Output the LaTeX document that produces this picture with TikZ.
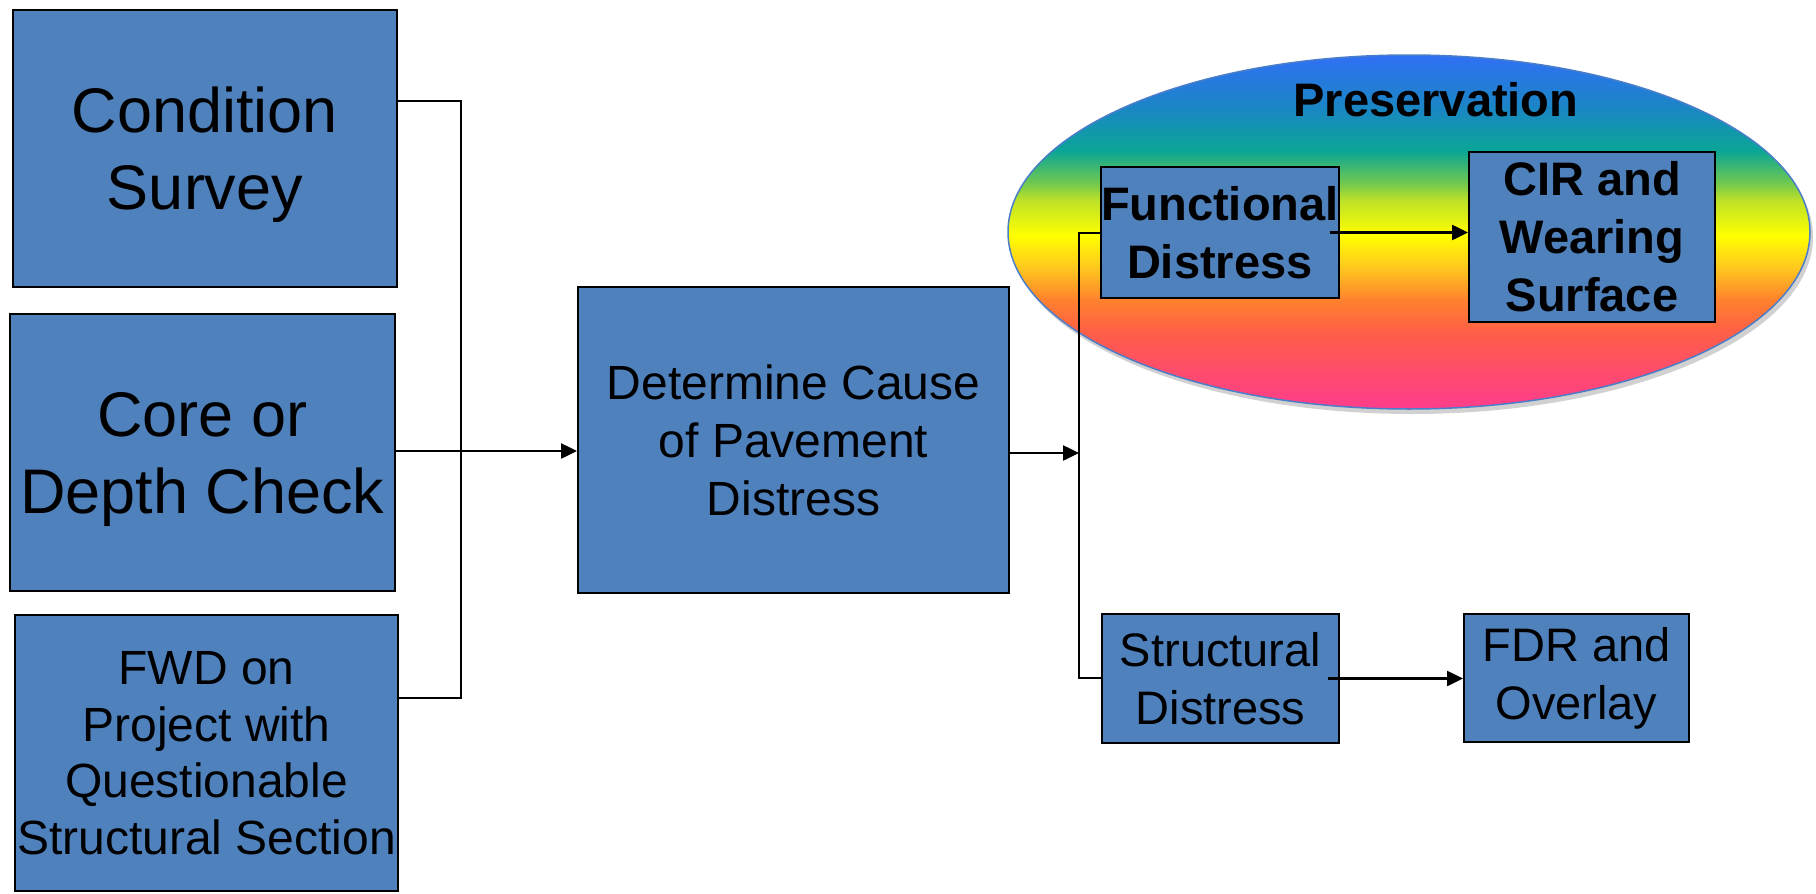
\documentclass[tikz,border=0pt]{standalone}
\usepackage{fontspec}
\setmainfont{Liberation Sans}
\usetikzlibrary{arrows.meta,shapes.geometric,shadows}
\definecolor{boxblue}{HTML}{4F81BD}
\definecolor{ellborder}{HTML}{4A7EC8}
\definecolor{sbl}{RGB}{48,112,245}
\definecolor{sbl2}{RGB}{28,132,200}
\definecolor{stl}{RGB}{10,165,150}
\definecolor{sgr}{RGB}{110,200,80}
\definecolor{syg}{RGB}{190,225,40}
\definecolor{syl}{RGB}{255,255,0}
\definecolor{syo}{RGB}{255,200,30}
\definecolor{sor}{RGB}{255,130,45}
\definecolor{srd}{RGB}{255,95,70}
\definecolor{srp}{RGB}{255,75,110}
\definecolor{spk}{RGB}{255,60,140}
\pgfdeclareverticalshading{rainbow}{100bp}{color(0bp)=(spk); color(25bp)=(spk); color(30bp)=(srp); color(36bp)=(srd); color(40.5bp)=(sor); color(45bp)=(syo); color(49.5bp)=(syl); color(54.5bp)=(syg); color(57bp)=(sgr); color(61.5bp)=(stl); color(68bp)=(sbl2); color(75bp)=(sbl); color(100bp)=(sbl)}
\tikzset{
  bluebox/.style={draw=black, line width=2pt, fill=boxblue, anchor=north west, inner sep=0pt, align=center, text=black},
  bigtxt/.style={font=\fontsize{63}{77}\selectfont},
  midtxt/.style={font=\fontsize{48}{58}\selectfont},
  smalltxt/.style={font=\fontsize{48}{56.5}\selectfont},
  rtxt/.style={font=\fontsize{47}{58}\selectfont},
  rbold/.style={font=\fontsize{47}{58}\selectfont\bfseries},
  conn/.style={draw=black, line width=2pt},
  arr/.style={draw=black, line width=2.5pt, -{Triangle[length=16pt,width=15pt]}}
}
\begin{document}
\begin{tikzpicture}[x=1pt,y=-1pt]
\useasboundingbox (0,0) rectangle (1816,894);
% Preservation ellipse
\node[ellipse, draw=ellborder, line width=1.5pt, shade, shading=rainbow, minimum width=802pt, minimum height=354pt, inner sep=0pt,
  drop shadow={shadow xshift=3pt, shadow yshift=-5pt, opacity=0.18, fill=black}] (pres) at (1409,232) {};
\node[font=\fontsize{47}{56}\selectfont\bfseries, anchor=base] (prestxt) at (1436,116) {Preservation};
% boxes
\node[bluebox, bigtxt, minimum width=384pt, minimum height=277pt] (cs) at (12,9) {\rule{0pt}{58pt}Condition\\Survey};
\node[bluebox, bigtxt, minimum width=385pt, minimum height=277pt] (core) at (9,313) {\rule{0pt}{58pt}Core or\\Depth Check};
\node[bluebox, smalltxt, minimum width=383pt, minimum height=276pt] (fwd) at (14,614) {FWD on\\Project with\\Questionable\\Structural Section};
\node[bluebox, midtxt, minimum width=431pt, minimum height=306pt] (det) at (577,286) {Determine Cause\\of Pavement\\Distress};
\node[bluebox, rbold, minimum width=234pt, minimum height=131pt] (func) at (1100,166) {Functional\\Distress};
\node[bluebox, rbold, minimum width=246pt, minimum height=170pt] (cir) at (1468,151) {CIR and\\Wearing\\Surface};
\node[bluebox, rtxt, minimum width=237pt, minimum height=129pt] (struc) at (1101,613) {Structural\\Distress};
\node[bluebox, rtxt, minimum width=225pt, minimum height=128pt] (fdr) at (1463,613) {FDR and\\Overlay};
% connector points
\coordinate (b1) at (461,101);
\coordinate (b2) at (461,451);
\coordinate (b3) at (461,698);
\coordinate (r1) at (1079,233);
\coordinate (r2) at (1079,453);
\coordinate (r3) at (1079,678);
% connectors
\draw[conn] (cs.east |- b1) -- (b1) -- (b3) -- (fwd.east |- b3);
\draw[conn] (core.east |- b2) -- (b2);
\draw[arr] (b2) -- (det.west |- b2);
\draw[arr] (det.east |- r2) -- (r2);
\draw[conn] (func.west |- r1) -- (r1) -- (r3) -- (struc.west |- r3);
\draw[arr] ([xshift=-10pt]func.east) -- (func.east -| cir.west);
\draw[arr] ([xshift=-12pt]struc.east) -- (struc.east -| fdr.west);
\end{tikzpicture}
\end{document}
